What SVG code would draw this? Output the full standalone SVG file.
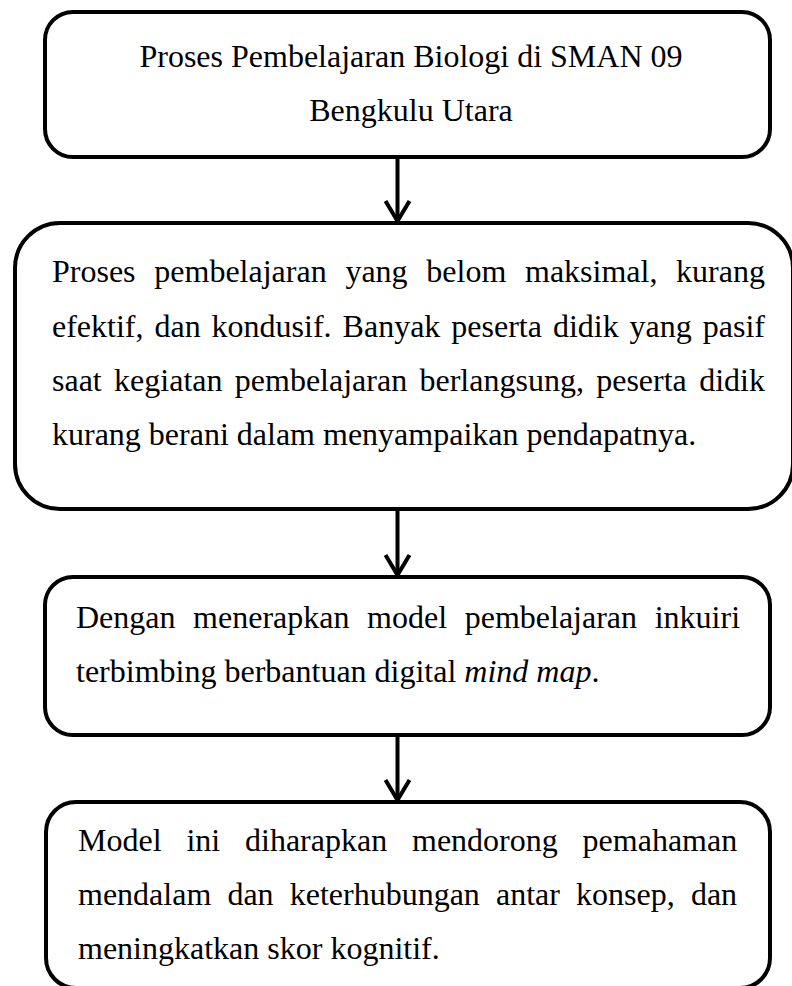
<svg xmlns="http://www.w3.org/2000/svg" width="792" height="986" viewBox="0 0 792 986">
<defs>
<style>
.box{fill:#fff;stroke:#000;stroke-width:4}
.t{font-family:"Liberation Serif","Times New Roman",serif;font-size:32px;fill:#000}
.conn{stroke:#000;stroke-width:4;fill:none}
</style>
<marker id="arr" markerUnits="userSpaceOnUse" markerWidth="30" markerHeight="30" viewBox="-24 -15 28 30" refX="0" refY="0" orient="auto">
<path d="M-20,-12 L0,0 L-20,12" fill="none" stroke="#000" stroke-width="4" stroke-linejoin="miter"/>
</marker>
</defs>
<rect width="792" height="986" fill="#fff"/>
<g id="connectors">
<path class="conn" d="M397.5,157 L397.5,221" marker-end="url(#arr)"/>
<path class="conn" d="M397.5,509 L397.5,575" marker-end="url(#arr)"/>
<path class="conn" d="M397.5,735 L397.5,800" marker-end="url(#arr)"/>
</g>
<g id="node1">
<rect class="box" x="45" y="12" width="725" height="145" rx="28"/>
<text class="t" x="411" y="67" text-anchor="middle">Proses Pembelajaran Biologi di SMAN 09</text>
<text class="t" x="411" y="121" text-anchor="middle">Bengkulu Utara</text>
</g>
<g id="node2">
<rect class="box" x="15" y="223" width="778" height="286" rx="45"/>
<text class="t" y="282"><tspan x="52">Proses</tspan><tspan x="154.3">pembelajaran</tspan><tspan x="345.4">yang</tspan><tspan x="426.3">belom</tspan><tspan x="525">maksimal,</tspan><tspan x="676.1">kurang</tspan></text>
<text class="t" y="337"><tspan x="52">efektif,</tspan><tspan x="154.5">dan</tspan><tspan x="211.6">kondusif.</tspan><tspan x="342.6">Banyak</tspan><tspan x="451.3">peserta</tspan><tspan x="552.9">didik</tspan><tspan x="629.6">yang</tspan><tspan x="702.8">pasif</tspan></text>
<text class="t" y="391"><tspan x="52">saat</tspan><tspan x="114.1">kegiatan</tspan><tspan x="234.8">pembelajaran</tspan><tspan x="419.5">berlangsung,</tspan><tspan x="596.2">peserta</tspan><tspan x="699.2">didik</tspan></text>
<text class="t" x="52" y="445">kurang berani dalam menyampaikan pendapatnya.</text>
</g>
<g id="node3">
<rect class="box" x="45" y="577" width="725" height="158" rx="28"/>
<text class="t" y="628"><tspan x="76">Dengan</tspan><tspan x="193.1">menerapkan</tspan><tspan x="367.1">model</tspan><tspan x="464.7">pembelajaran</tspan><tspan x="654.7">inkuiri</tspan></text>
<text class="t" x="76" y="682">terbimbing berbantuan digital <tspan font-style="italic">mind map</tspan>.</text>
</g>
<g id="node4">
<rect class="box" x="46" y="802" width="724" height="186" rx="30"/>
<text class="t" y="851"><tspan x="78">Model</tspan><tspan x="186.4">ini</tspan><tspan x="245">diharapkan</tspan><tspan x="412">mendorong</tspan><tspan x="582.6">pemahaman</tspan></text>
<text class="t" y="905"><tspan x="78">mendalam</tspan><tspan x="227.4">dan</tspan><tspan x="289.7">keterhubungan</tspan><tspan x="496">antar</tspan><tspan x="576.1">konsep,</tspan><tspan x="690.9">dan</tspan></text>
<text class="t" x="78" y="959">meningkatkan skor kognitif.</text>
</g>
</svg>
